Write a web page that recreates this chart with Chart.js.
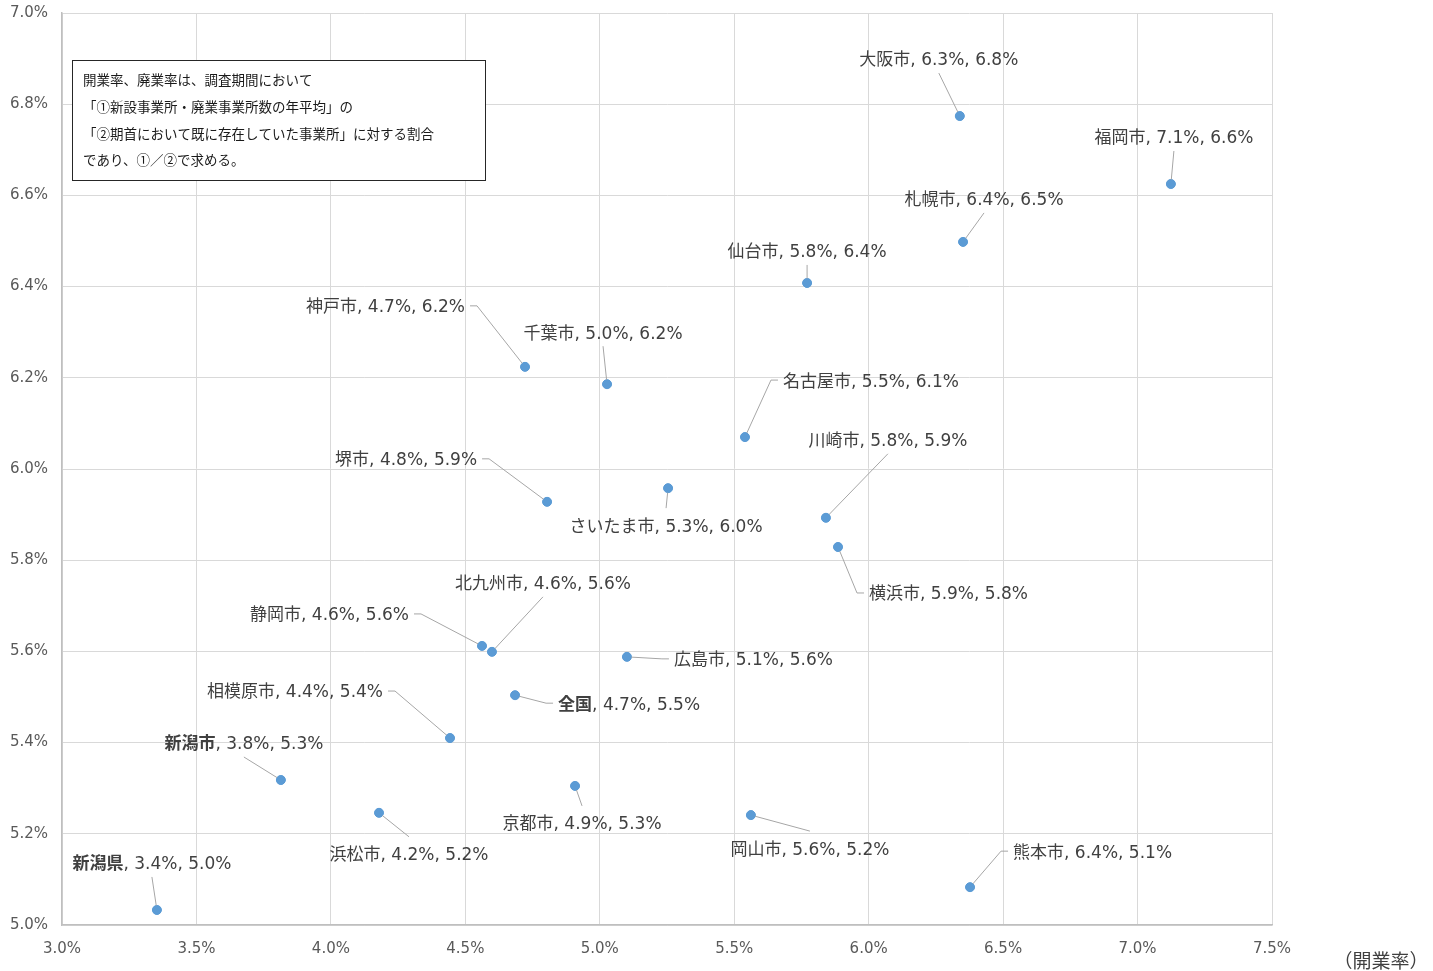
<!DOCTYPE html>
<html>
<head>
<meta charset="utf-8">
<script src="https://cdn.jsdelivr.net/npm/chart.js@4.4.1/dist/chart.umd.min.js"></script>
<style>
html,body{margin:0;padding:0;background:#fff;}
#wrap{width:1433px;height:971px;}
</style>
</head>
<body>
<div id="wrap"><canvas id="c" width="1433" height="971"></canvas></div>
<script>
// ---- data (percent) ----
const cities = ["大阪市","福岡市","札幌市","仙台市","神戸市","千葉市","名古屋市","堺市","さいたま市","川崎市","横浜市","静岡市","北九州市","広島市","全国","相模原市","新潟市","京都市","浜松市","岡山市","熊本市","新潟県"];
const openRate  = [6.339,7.124,6.351,5.771,4.722,5.027,5.540,4.804,5.254,5.841,5.886,4.562,4.599,5.101,4.685,4.443,3.814,4.908,4.179,5.562,6.377,3.353];
const closeRate = [6.774,6.625,6.498,6.408,6.224,6.186,6.070,5.928,5.958,5.893,5.829,5.612,5.599,5.588,5.504,5.410,5.318,5.305,5.246,5.241,5.083,5.033];
const boldNames = ["全国","新潟市","新潟県"];
const xTicks = [3.0,3.5,4.0,4.5,5.0,5.5,6.0,6.5,7.0,7.5];
const yTicks = [5.0,5.2,5.4,5.6,5.8,6.0,6.2,6.4,6.6,6.8,7.0];
const xAxisTitle = "（開業率）";
const noteLines = ["開業率、廃業率は、調査期間において","「①新設事業所・廃業事業所数の年平均」の","「②期首において既に存在していた事業所」に対する割合","であり、①／②で求める。"];

// ---- label layout (pixel offsets from point; align) ----
const labelLayout = {
  "大阪市":[-21,-57,"center"], "福岡市":[3,-47,"center"], "札幌市":[21,-43,"center"],
  "仙台市":[0,-32,"center"], "神戸市":[-60,-61,"right"], "千葉市":[-4,-52,"center"],
  "名古屋市":[38,-57,"left"], "堺市":[-70,-43,"right"], "さいたま市":[-2,37,"center"],
  "川崎市":[62,-78,"center"], "横浜市":[31,46,"left"], "静岡市":[-73,-32,"right"],
  "北九州市":[51,-69,"center"], "広島市":[47,2,"left"], "全国":[43,8,"left"],
  "相模原市":[-67,-47,"right"], "新潟市":[-37,-37,"center"], "京都市":[7,37,"center"],
  "浜松市":[30,41,"center"], "岡山市":[59,33,"center"], "熊本市":[43,-36,"left"],
  "新潟県":[-5,-47,"center"]
};

const FONT_FAMILY = '"DejaVu Sans","Noto Sans CJK JP",sans-serif';
const LABEL_SIZE = 17;
const TEXT_COLOR = '#404040';

const points = cities.map((c,i)=>({x:openRate[i], y:closeRate[i], name:c}));

const labelPlugin = {
  id:'labels',
  afterDatasetsDraw(chart){
    const ctx = chart.ctx;
    const meta = chart.getDatasetMeta(0);
    ctx.save();
    meta.data.forEach((el,i)=>{
      const name = cities[i];
      const [dx,dy,align] = labelLayout[name];
      const px = el.x, py = el.y;
      const lx = px+dx, ly = py+dy;
      ctx.strokeStyle = '#a6a6a6';
      ctx.lineWidth = 1;
      ctx.beginPath();
      if(align==='center'){
        const ey = dy<0 ? ly+14 : ly-17;
        ctx.moveTo(px,py); ctx.lineTo(lx,ey);
      } else if(align==='left'){
        ctx.moveTo(px,py); ctx.lineTo(lx-12,ly); ctx.lineTo(lx-5,ly);
      } else {
        ctx.moveTo(px,py); ctx.lineTo(lx+12,ly); ctx.lineTo(lx+5,ly);
      }
      ctx.stroke();
    });
    meta.data.forEach(el=>{
      ctx.fillStyle='#5b9bd5';
      ctx.beginPath(); ctx.arc(el.x,el.y,4.5,0,Math.PI*2); ctx.fill();
    });
    ctx.textBaseline='middle';
    meta.data.forEach((el,i)=>{
      const name = cities[i];
      const [dx,dy,align] = labelLayout[name];
      const rest = ', ' + openRate[i].toFixed(1) + '%, ' + closeRate[i].toFixed(1) + '%';
      const bold = boldNames.includes(name);
      const fName = (bold?'bold ':'') + LABEL_SIZE+'px '+FONT_FAMILY;
      const fRest = LABEL_SIZE+'px '+FONT_FAMILY;
      ctx.font=fName; const wN = ctx.measureText(name).width;
      ctx.font=fRest; const wR = ctx.measureText(rest).width;
      const w = wN+wR;
      let x0 = el.x+dx;
      if(align==='center') x0 -= w/2; else if(align==='right') x0 -= w;
      const y = el.y+dy+2;
      ctx.textAlign='left';
      ctx.fillStyle=TEXT_COLOR;
      ctx.font=fName; ctx.fillText(name,x0,y);
      ctx.font=fRest; ctx.fillText(rest,x0+wN,y);
    });
    ctx.fillStyle='#fff';
    ctx.fillRect(72.5,60.5,413,120);
    ctx.strokeStyle='#262626'; ctx.lineWidth=1;
    ctx.strokeRect(72.5,60.5,413,120);
    ctx.fillStyle='#1a1a1a';
    ctx.font='13.5px "Noto Sans CJK JP",sans-serif';
    ctx.textBaseline='middle';
    noteLines.forEach((t,k)=>ctx.fillText(t,83,80+k*26.7));
    ctx.font='19px "Noto Sans CJK JP",sans-serif';
    ctx.fillStyle=TEXT_COLOR; ctx.textAlign='center';
    ctx.fillText(xAxisTitle,1381,961);
    ctx.restore();
  }
};

new Chart(document.getElementById('c'),{
  type:'scatter',
  data:{datasets:[{data:points, backgroundColor:'#5b9bd5', borderColor:'#5b9bd5', pointRadius:4.5, pointHoverRadius:4.5}]},
  options:{
    responsive:false, animation:false,
    layout:{padding:{left:0,right:161,top:13,bottom:0}},
    plugins:{legend:{display:false}, tooltip:{enabled:false}},
    scales:{
      x:{type:'linear',min:3,max:7.5,
        afterBuildTicks(s){s.ticks=xTicks.map(v=>({value:v}));},
        afterFit(s){s.height=46; s.paddingLeft=0; s.paddingRight=0;},
        grid:{color:'#d9d9d9',drawTicks:false},
        border:{color:'#bfbfbf',width:1.5},
        ticks:{padding:15,color:'#595959',font:{family:FONT_FAMILY,size:15},maxRotation:0,callback:v=>v.toFixed(1)+'%'}
      },
      y:{type:'linear',min:5,max:7,
        afterBuildTicks(s){s.ticks=yTicks.map(v=>({value:v}));},
        afterFit(s){s.width=62; s.paddingTop=0; s.paddingBottom=0;},
        grid:{color:'#d9d9d9',drawTicks:false},
        border:{color:'#bfbfbf',width:1.5},
        ticks:{padding:14,color:'#595959',font:{family:FONT_FAMILY,size:15},callback:v=>v.toFixed(1)+'%'}
      }
    }
  },
  plugins:[labelPlugin]
});
</script>
</body>
</html>
